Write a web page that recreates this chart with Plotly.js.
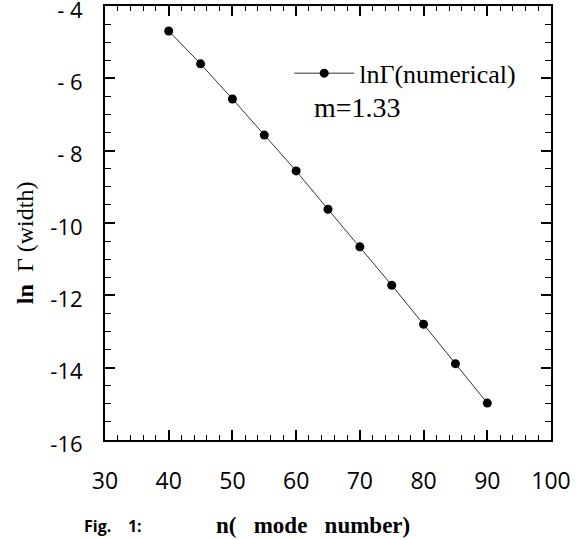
<!DOCTYPE html>
<html>
<head>
<meta charset="utf-8">
<script src="https://cdn.plot.ly/plotly-3.0.1.min.js"></script>
<style>
html,body{margin:0;padding:0;background:#fff;}
#wrap{position:relative;width:585px;height:540px;}
#axes,#chart{position:absolute;left:0;top:0;width:585px;height:540px;}
#chart{pointer-events:none;}
</style>
</head>
<body>
<div id="wrap">
  <div id="axes"></div>
  <div id="chart"></div>
</div>
<script>
// Data
const modeNumber = [40, 45, 50, 55, 60, 65, 70, 75, 80, 85, 90];
const lnGamma = [-4.69, -5.60, -6.57, -7.57, -8.56, -9.62, -10.66, -11.72, -12.80, -13.89, -14.98];
const xTickVals = [30, 40, 50, 60, 70, 80, 90, 100];
const xTickText = ["30", "40", "50", "60", "70", "80", "90", "100"];
const yTickVals = [-16, -14, -12, -10, -8, -6, -4];
const yTickText = ["-16", "-14", "-12", "-10", "- 8", "- 6", "- 4"];
const xRange = [30, 100];
const yRange = [-16, -4];

const serif = "Liberation Serif, Times New Roman, serif";
const sans = "Open Sans, sans-serif";
const margin = {l: 105, r: 34, t: 6, b: 100};

// ---- layer 1: the framed axes with inside ticks on all four sides ----
const axisTrace = {
  x: modeNumber, y: lnGamma, mode: "markers",
  marker: {color: "#000", size: 9, opacity: 0}, showlegend: false, hoverinfo: "skip"
};
const axisCommon = {
  showgrid: false, zeroline: false, showline: true,
  linecolor: "#000", linewidth: 2, mirror: "allticks",
  ticks: "inside", ticklen: 10, tickwidth: 1.5, tickcolor: "#000",
  ticklabeloverflow: "allow",
  tickfont: {family: sans, size: 23, color: "#000"}
};
const axesLayout = {
  width: 585, height: 540, margin: margin,
  showlegend: false,
  xaxis: Object.assign({}, axisCommon, {
    range: xRange, tickmode: "array", tickvals: xTickVals, ticktext: xTickText,
    ticklabelstandoff: 19,
    minor: {dtick: 2, ticks: "inside", ticklen: 5, tickwidth: 1.2, tickcolor: "#000"}
  }),
  yaxis: Object.assign({}, axisCommon, {
    range: yRange, tickmode: "array", tickvals: yTickVals, ticktext: yTickText,
    ticklabelstandoff: 16, ticklabelshift: 4,
    tickfont: {family: sans, size: 22, color: "#000"},
    minor: {dtick: 0.5, ticks: "inside", ticklen: 6, tickwidth: 1.2, tickcolor: "#000"}
  })
};

// ---- layer 2: data line, legend and texts (transparent, same plot area) ----
const trace = {
  x: modeNumber, y: lnGamma, mode: "lines+markers",
  name: "lnΓ(numerical)",
  line: {color: "#333", width: 1},
  marker: {color: "#000", size: 9, symbol: "circle"}
};
const chartLayout = {
  width: 585, height: 540, margin: margin,
  paper_bgcolor: "rgba(0,0,0,0)", plot_bgcolor: "rgba(0,0,0,0)",
  showlegend: true,
  legend: {
    x: 0.413, y: 0.845, xanchor: "left", yanchor: "middle",
    bgcolor: "rgba(0,0,0,0)",
    font: {family: serif, size: 26, color: "#000"},
    itemwidth: 60
  },
  xaxis: {range: xRange, visible: false},
  yaxis: {range: yRange, visible: false},
  annotations: [
    {
      text: "m=1.33", xref: "paper", yref: "paper",
      x: 0.464, y: 0.765, xanchor: "left", yanchor: "middle",
      showarrow: false, font: {family: serif, size: 28, color: "#000"}
    },
    {
      text: "<b>ln</b>\u00a0\u00a0Γ\u00a0(width)", xref: "paper", yref: "paper",
      x: -0.179, y: 0.454, xanchor: "center", yanchor: "middle", textangle: -90,
      showarrow: false, font: {family: serif, size: 24, color: "#000"}
    },
    {
      text: "<b>n(\u00a0\u00a0 mode\u00a0\u00a0 number)</b>", xref: "paper", yref: "paper",
      x: 0.466, y: -0.196, xanchor: "center", yanchor: "middle",
      showarrow: false, font: {family: serif, size: 23, color: "#000"}
    },
    {
      text: "<b>Fig.\u00a0\u00a0\u00a0\u00a01:</b>", xref: "paper", yref: "paper",
      x: -0.0516, y: -0.198, xanchor: "left", yanchor: "middle",
      showarrow: false, font: {family: sans, size: 16, color: "#000"}
    }
  ]
};

Plotly.newPlot("axes", [axisTrace], axesLayout, {displayModeBar: false});
Plotly.newPlot("chart", [trace], chartLayout, {displayModeBar: false});
</script>
</body>
</html>
